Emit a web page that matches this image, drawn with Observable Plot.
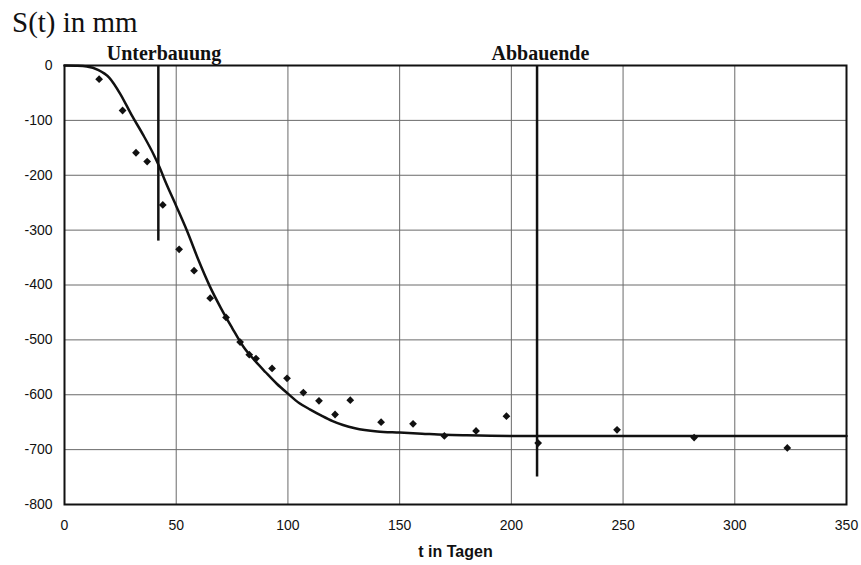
<!DOCTYPE html>
<html>
<head>
<meta charset="utf-8">
<script src="https://cdn.jsdelivr.net/npm/d3@7"></script>
<script src="https://cdn.jsdelivr.net/npm/@observablehq/plot@0.6"></script>
<style>
  body { margin: 0; background: #fff; }
  #wrap { position: relative; width: 861px; height: 565px; }
  #title { position: absolute; left: 12px; top: 6px; font-family: "Liberation Serif", "DejaVu Serif", serif; font-size: 29px; color: #111; z-index: 2; }
  svg { font-family: "Liberation Sans", Arial, sans-serif; }
  g[aria-label="x-axis label"] text { font-weight: bold; font-size: 16px; }
</style>
</head>
<body>
<div id="wrap"><div id="title">S(t) in mm</div></div>
<script>
// Measured points (t in days, S in mm)
const pointT = [15.5, 26, 32, 37, 44, 51.3, 58, 65.2, 72.3, 78.6, 82.7, 85.7, 92.9, 99.6, 106.9, 113.9, 121.1, 127.9, 141.7, 156, 170, 184.2, 197.8, 212, 247.3, 281.8, 323.5];
const pointS = [-25, -82, -159, -175, -254, -335, -374, -424, -459, -504, -527, -534, -552, -570, -596, -611, -636, -610, -650, -653, -675, -666, -639, -688, -664, -678, -697];

// Fitted curve
const curveT = [0, 5, 10, 15, 20, 25, 30, 35, 40, 42.5, 45, 50, 55, 60, 65, 70, 75, 80, 85, 90, 95, 100, 105, 110, 115, 120, 130, 140, 150, 160, 170, 180, 200, 250, 300, 350];
const curveS = [0, -0.5, -2, -8, -22, -52, -90, -125, -163, -185, -210, -256, -303, -355, -402, -442, -478, -512, -537, -559, -580, -598, -615, -627, -638, -648, -661, -667, -669, -671, -673, -674, -675, -675, -675, -675];

// Events
const eventNames = ["Unterbauung", "Abbauende"];
const eventT = [42, 211.5];
const eventEnd = [-320, -750];
const eventLabelT = [44.5, 213];

const xTicks = [0, 50, 100, 150, 200, 250, 300, 350];
const yTicks = [0, -100, -200, -300, -400, -500, -600, -700, -800];

const points = pointT.map((t, i) => ({t, s: pointS[i]}));
const curve = curveT.map((t, i) => ({t, s: curveS[i]}));
const events = eventNames.map((name, i) => ({name, t: eventT[i], end: eventEnd[i], lt: eventLabelT[i]}));

const chart = Plot.plot({
  width: 861,
  height: 565,
  marginLeft: 64,
  marginRight: 15,
  marginTop: 65,
  marginBottom: 61,
  x: {domain: [0, 350]},
  y: {domain: [-800, 0]},
  marks: [
    Plot.gridX(xTicks, {stroke: "#6a6a6a", strokeOpacity: 1, strokeWidth: 1}),
    Plot.gridY(yTicks, {stroke: "#6a6a6a", strokeOpacity: 1, strokeWidth: 1}),
    Plot.frame({stroke: "#111", strokeWidth: 2}),
    Plot.axisX({ticks: xTicks, tickSize: 0, tickPadding: 16, fontSize: 14, tickFormat: d => String(d), label: "t in Tagen", labelAnchor: "center", labelArrow: "none", labelOffset: 52, fill: "#111"}),
    Plot.axisY({ticks: yTicks, tickSize: 0, tickPadding: 12, fontSize: 14, tickFormat: d => String(d), label: null, fill: "#111"}),
    Plot.ruleX(events, {x: "t", y1: 0, y2: "end", stroke: "#111", strokeWidth: 2.5}),
    Plot.line(curve, {x: "t", y: "s", stroke: "#111", strokeWidth: 2.5, curve: "monotone-x"}),
    Plot.dot(points, {x: "t", y: "s", symbol: "diamond2", r: 3.5, fill: "#111", stroke: null}),
    Plot.text(events, {x: "lt", y: () => 0, text: "name", dy: -6, lineAnchor: "bottom", fontSize: 20, fontWeight: "bold", fontFamily: "Liberation Serif, DejaVu Serif, serif", fill: "#111"})
  ]
});
document.getElementById("wrap").appendChild(chart);
chart.style.position = "absolute";
chart.style.left = "0";
chart.style.top = "0";
</script>
</body>
</html>
